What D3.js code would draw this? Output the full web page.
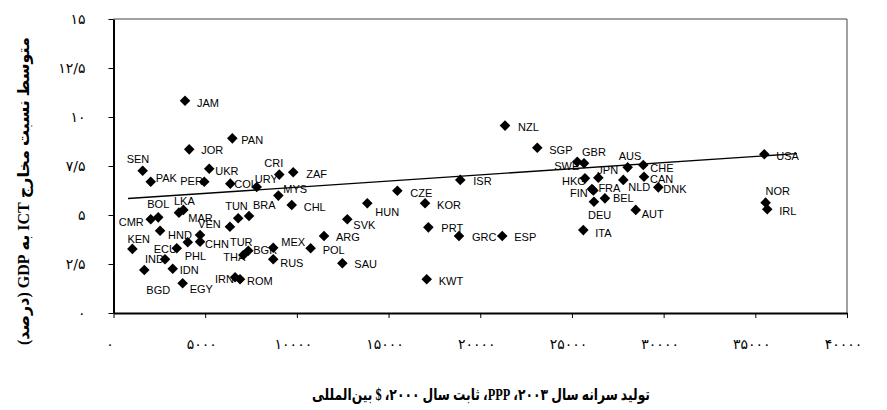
<!DOCTYPE html>
<html>
<head>
<meta charset="utf-8">
<script src="https://cdn.jsdelivr.net/npm/d3@7"></script>
<style>
  body { margin: 0; background: #fff; }
  svg { display: block; }
</style>
</head>
<body>
<svg id="plot"></svg>
<script>
// Country codes, GDP per capita (PPP, const 2000 $) and ICT spending share of GDP (%)
var countries = ["JAM","PAN","JOR","SEN","PAK","UKR","PER","COL","URY","CRI","ZAF","MYS",
  "CMR","BOL","LKA","MAR","KEN","BGD","IND","IDN","ECU","EGY","HND","PHL","VEN","CHN",
  "TUR","THA","BGR","MEX","RUS","IRN","ROM","TUN","BRA","CHL","HUN","CZE","KOR","ISR",
  "SVK","ARG","PRT","GRC","POL","SAU","KWT","NZL","SGP","GBR","SWE","ESP","ITA","DEU",
  "BEL","FIN","FRA","HKG","JPN","NLD","AUS","CHE","CAN","DNK","AUT","USA","NOR","IRL"];
var gdpPerCapita = [3900,6480,4130,1590,2030,5220,4950,6370,7810,9040,9800,8990,
  2030,2440,3570,3810,1030,1680,2810,3230,3450,3770,2540,4050,4720,4720,
  6350,7080,7350,8710,8710,6630,6900,6800,7390,9720,13840,15480,16990,18910,
  12750,11480,17170,18840,10750,12480,17080,21350,23110,25660,25290,21200,25620,26200,
  26800,26090,26170,25710,26440,27800,28040,28890,28930,29710,28480,35490,35560,35650];
var ictShare = [10.83,8.91,8.35,7.26,6.70,7.36,6.70,6.60,6.43,7.06,7.18,5.99,
  4.78,4.88,5.12,5.26,3.27,2.19,2.74,2.26,3.30,1.52,4.20,3.61,3.98,3.64,
  4.40,2.96,3.18,3.33,2.74,1.82,1.72,4.83,4.95,5.51,5.60,6.24,5.60,6.79,
  4.78,3.93,4.37,3.93,3.30,2.54,1.72,9.56,8.43,7.64,7.72,3.93,4.23,5.68,
  5.85,6.33,6.25,6.87,6.90,6.79,7.43,7.55,6.95,6.41,5.26,8.10,5.63,5.29];

// Linear trend line end points (x, y)
var trendX = [790, 37270];
var trendY = [5.84, 8.13];

// Tick values
var xTicks = [0,5000,10000,15000,20000,25000,30000,35000,40000];
var yTicks = [0,2.5,5,7.5,10,12.5,15];

// Hand placed data label offsets (px) as in the original chart
var labelDx = [12,9,12,-16,5,6,-24,4,-2,-15,13,5,
  -32,-11,-5,5,-5,2,-20,7,-23,7,8,-3,-2,5,
  0,-20,5,8,7,-20,7,-13,4,12,8,13,12,13,
  6,12,13,13,12,12,12,13,12,-2,-23,12,12,-6,
  8,-22,5,-23,-1,5,-9,7,6,5,6,12,0,12];
var labelDy = [2,2,1,-12,-4,2,-1,1,-8,-11,2,-6,
  3,-13,-11,8,-10,20,0,1,1,6,4,14,-11,2,
  15,2,-1,-6,4,2,2,-12,-11,2,9,2,2,1,
  6,1,1,1,2,1,2,2,2,-11,4,1,3,13,
  0,4,-2,3,-8,7,-11,3,2,2,4,2,-12,2];

var xTitle = "تولید سرانه سال ۲۰۰۳، PPP، ثابت سال ۲۰۰۰، $ بین‌المللی";
var yTitle = "متوسط نسبت مخارج ICT به GDP (درصد)";

var data = countries.map(function(c, i) {
  return { code: c, x: gdpPerCapita[i], y: ictShare[i], dx: labelDx[i], dy: labelDy[i] };
});

var width = 887, height = 410;

var svg = d3.select("#plot")
  .attr("width", width)
  .attr("height", height);

var x = d3.scaleLinear().domain([0, 40000]).range([113.5, 847]);
var y = d3.scaleLinear().domain([0, 15]).range([313, 19]);

function toFa(n) {
  return String(n).replace(/\./g, "/").replace(/[0-9]/g, function(d) { return "۰۱۲۳۴۵۶۷۸۹"[+d]; });
}

// Plot frame (top and right)
svg.append("path")
  .attr("d", "M" + x(0) + "," + y(15) + "H" + x(40000) + "V" + y(0))
  .attr("fill", "none")
  .attr("stroke", "#444")
  .attr("stroke-width", 1);

// X axis
var gx = svg.append("g")
  .attr("transform", "translate(0," + y(0) + ")")
  .call(d3.axisBottom(x).tickValues(xTicks).tickSize(5).tickPadding(21).tickSizeOuter(0).tickFormat(toFa));
gx.select(".domain").attr("stroke", "#000").attr("stroke-width", 2);
gx.selectAll(".tick line").attr("stroke", "#000");
gx.selectAll(".tick text")
  .attr("x", -4)
  .style("font-family", "'DejaVu Sans'")
  .style("font-size", "14px")
  .attr("fill", "#000");

// Y axis
var gy = svg.append("g")
  .attr("transform", "translate(" + x(0) + ",0)")
  .call(d3.axisLeft(y).tickValues(yTicks).tickSize(5).tickPadding(23).tickSizeOuter(0).tickFormat(toFa));
gy.select(".domain").attr("stroke", "#000").attr("stroke-width", 2);
gy.selectAll(".tick line").attr("stroke", "#000");
gy.selectAll(".tick text")
  .style("font-family", "'DejaVu Sans'")
  .style("font-size", "14px")
  .attr("fill", "#000");

// Data labels
svg.selectAll(".lbl")
  .data(data)
  .enter().append("text")
    .attr("class", "lbl")
    .attr("x", function(d) { return x(d.x) + d.dx; })
    .attr("y", function(d) { return y(d.y) + d.dy; })
    .attr("dy", "0.35em")
    .style("font-family", "'Liberation Sans', Arial, sans-serif")
    .style("font-size", "11px")
    .attr("fill", "#000")
    .text(function(d) { return d.code; });

// Trend line
svg.append("line")
  .attr("x1", x(trendX[0])).attr("y1", y(trendY[0]))
  .attr("x2", x(trendX[1])).attr("y2", y(trendY[1]))
  .attr("stroke", "#000")
  .attr("stroke-width", 1.4);

// Diamond markers
var diamond = d3.symbol().type(d3.symbolSquare).size(56);
svg.selectAll(".pt")
  .data(data)
  .enter().append("path")
    .attr("class", "pt")
    .attr("d", diamond)
    .attr("transform", function(d) { return "translate(" + x(d.x) + "," + y(d.y) + ") rotate(45)"; })
    .attr("fill", "#000");

// X axis title
svg.append("text")
  .attr("x", 481)
  .attr("y", 394)
  .attr("dy", "0.35em")
  .attr("text-anchor", "middle")
  .attr("direction", "rtl")
  .attr("textLength", 338)
  .attr("lengthAdjust", "spacingAndGlyphs")
  .style("font-family", "'Liberation Serif', 'DejaVu Sans', serif")
  .style("font-weight", "bold")
  .style("font-size", "16px")
  .text(xTitle);

// Y axis title
svg.append("text")
  .attr("transform", "translate(23,191) rotate(-90)")
  .attr("dy", "0.35em")
  .attr("text-anchor", "middle")
  .attr("direction", "rtl")
  .attr("textLength", 308)
  .attr("lengthAdjust", "spacingAndGlyphs")
  .style("font-family", "'Liberation Serif', 'DejaVu Sans', serif")
  .style("font-weight", "bold")
  .style("font-size", "16px")
  .text(yTitle);
</script>
</body>
</html>
